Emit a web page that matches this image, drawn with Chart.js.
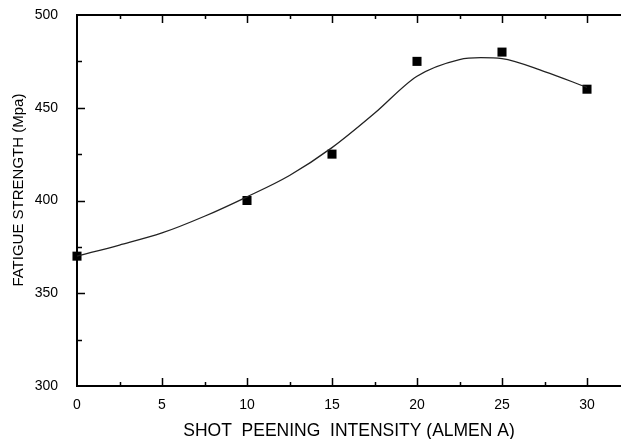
<!DOCTYPE html>
<html>
<head>
<meta charset="utf-8">
<script src="https://cdn.jsdelivr.net/npm/chart.js@4"></script>
<style>
  html, body { margin: 0; padding: 0; background: #fff; overflow: hidden; }
  #wrap { width: 621px; height: 439px; }
  canvas { display: block; }
</style>
</head>
<body>
<div id="wrap"><canvas id="fatigueChart" width="621" height="439"></canvas></div>
<script>
"use strict";

// measured points
const intensity = [0, 10, 15, 20, 25, 30];
const strength = [370, 400, 425, 475, 480, 460];

// fitted curve
const curveX = [0, 2.5, 5, 7.5, 10, 12.5, 15, 17.5, 20, 22.5, 23.75, 25, 27.5, 30];
const curveY = [370, 376, 382.5, 391.5, 402, 413.5, 428.5, 447, 467, 476, 477, 476.5, 469.5, 461];

const xTicks = [0, 5, 10, 15, 20, 25, 30];
const yTicks = [300, 350, 400, 450, 500];

const FONT = "'Liberation Sans', Arial, sans-serif";

// inward ticks + top frame line
const frameTicks = {
  id: "frameTicks",
  afterDatasetsDraw(chart) {
    const ctx = chart.ctx;
    const area = chart.chartArea;
    const x = chart.scales.x;
    const y = chart.scales.y;
    ctx.save();
    ctx.strokeStyle = "#000";
    ctx.lineWidth = 2;
    ctx.beginPath();
    ctx.moveTo(area.left - 1, area.top);
    ctx.lineTo(chart.width, area.top);
    ctx.stroke();

    ctx.lineWidth = 1.5;
    ctx.beginPath();
    for (let v = 2.5; v <= 30; v += 2.5) {
      let len = xTicks.includes(v) ? 8 : 4;
      let px = Math.round(x.getPixelForValue(v)) + 0.5;
      ctx.moveTo(px, area.bottom);
      ctx.lineTo(px, area.bottom - len);
      ctx.moveTo(px, area.top);
      ctx.lineTo(px, area.top + len);
    }
    for (let v = 325; v < 500; v += 25) {
      let len = yTicks.includes(v) ? 8 : 5;
      let py = Math.round(y.getPixelForValue(v)) + 0.5;
      ctx.moveTo(area.left, py);
      ctx.lineTo(area.left + len, py);
    }
    ctx.stroke();
    ctx.restore();
  }
};

new Chart(document.getElementById("fatigueChart"), {
  type: "scatter",
  data: {
    datasets: [
      {
        label: "fit",
        data: curveX.map((v, i) => ({ x: v, y: curveY[i] })),
        showLine: true,
        borderColor: "#222",
        borderWidth: 1.3,
        cubicInterpolationMode: "monotone",
        pointRadius: 0,
        fill: false
      },
      {
        label: "measured",
        data: intensity.map((v, i) => ({ x: v, y: strength[i] })),
        pointStyle: "rect",
        pointRadius: 6.4,
        backgroundColor: "#000",
        borderColor: "#000",
        borderWidth: 0
      }
    ]
  },
  options: {
    responsive: false,
    animation: false,
    clip: false,
    layout: { autoPadding: false, padding: { top: 15, right: 0, left: 0, bottom: 0 } },
    plugins: {
      legend: { display: false },
      tooltip: { enabled: false }
    },
    scales: {
      x: {
        type: "linear",
        min: 0,
        max: 32,
        afterFit: (s) => { s.height = 53; s.paddingRight = 0; s.paddingLeft = 0; },
        afterBuildTicks: (s) => { s.ticks = xTicks.map(v => ({ value: v })); },
        grid: { display: false },
        border: { display: true, color: "#000", width: 2 },
        ticks: {
          color: "#000",
          padding: 3,
          font: { family: FONT, size: 14 }
        },
        title: {
          display: true,
          text: "SHOT  PEENING  INTENSITY (ALMEN A)",
          color: "#000",
          padding: { top: 0, bottom: -3 },
          font: { family: FONT, size: 17.5 }
        }
      },
      y: {
        type: "linear",
        min: 300,
        max: 500,
        afterFit: (s) => { s.width = 77; s.paddingTop = 0; s.paddingBottom = 0; },
        afterBuildTicks: (s) => { s.ticks = yTicks.map(v => ({ value: v })); },
        grid: { display: false },
        border: { display: true, color: "#000", width: 2 },
        ticks: {
          color: "#000",
          padding: 11,
          font: { family: FONT, size: 14 }
        },
        title: {
          display: true,
          text: "     FATIGUE STRENGTH (Mpa)",
          color: "#000",
          padding: { top: 10, bottom: 0 },
          font: { family: FONT, size: 15 }
        }
      }
    }
  },
  plugins: [frameTicks]
});
</script>
</body>
</html>
